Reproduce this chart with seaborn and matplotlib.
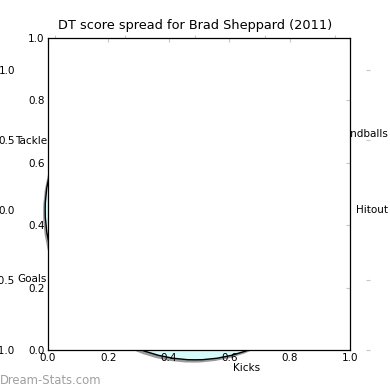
import matplotlib
matplotlib.use("Agg")
import matplotlib.pyplot as plt
from matplotlib.patches import Circle
import seaborn as sns

# radar categories (the score polygon itself sits behind the white panel)
categories = ["Kicks", "Handballs", "Hitout", "Tackle", "Goals"]
ring_radius = 1.07
bg_ticks = [-1.0, -0.5, 0.0, 0.5, 1.0]
fg_ticks = [0.0, 0.2, 0.4, 0.6, 0.8, 1.0]
title = "DT score spread for Brad Sheppard (2011)"

# where each category label sits in the radar axes
label_pos = {
    "Kicks": (0.37, -1.13),
    "Handballs": (1.19, 0.54),
    "Hitout": (1.265, 0.0),
    "Tackle": (-1.17, 0.49),
    "Goals": (-1.165, -0.49),
}

sns.set_style("white")
plt.rcParams["font.family"] = ["DejaVu Sans"]
plt.rcParams["text.color"] = "black"
plt.rcParams["xtick.labelcolor"] = "black"
plt.rcParams["ytick.labelcolor"] = "black"

tick_grey = "#c8c8c8"

fig = plt.figure(figsize=(3.9, 3.9), dpi=100)

# radar axes in the back: no frame, just grey ticks
bg = fig.add_axes([20 / 390, 5 / 390, 350 / 390, 350 / 390])
bg.set_facecolor("none")
sns.despine(ax=bg, left=True, bottom=True)
bg.set_xlim(-1.25, 1.25)
bg.set_ylim(-1.25, 1.25)
bg.set_xticks(bg_ticks)
bg.set_yticks(bg_ticks)
bg.tick_params(direction="in", length=3, width=0.8, color=tick_grey,
               labelcolor="black", top=True, right=True, labelsize=7.5, pad=3.5)
bg.set_title(title, fontsize=9.3, pad=4, color="black")

shadow = Circle((-0.015, -0.02), ring_radius, facecolor="#9a9a9a",
                edgecolor="none", zorder=1)
ring = Circle((0, 0), ring_radius, facecolor="#d6fafa",
              edgecolor="black", linewidth=1, zorder=2)
bg.add_patch(shadow)
bg.add_patch(ring)

for cat in categories:
    x, y = label_pos[cat]
    bg.text(x, y, cat, fontsize=7.5, ha="center", va="center", zorder=3)

# white cartesian panel in front
fg = fig.add_axes([48 / 390, 40 / 390, 302 / 390, 312 / 390])
fg.set_facecolor("white")
fg.set_xlim(0, 1)
fg.set_ylim(0, 1)
fg.set_xticks(fg_ticks)
fg.set_yticks(fg_ticks)
for s in fg.spines.values():
    s.set_visible(True)
    s.set_color("black")
    s.set_linewidth(0.9)
fg.tick_params(direction="in", length=3, width=0.8, color=tick_grey,
               labelcolor="black", top=True, right=True, labelsize=7.5, pad=2.5)

fig.text(0.0, 6 / 390, "Dream-Stats.com", fontsize=8.4, color="#a0a0a0",
         ha="left", va="baseline")

fig.savefig("out.png", dpi=100)
